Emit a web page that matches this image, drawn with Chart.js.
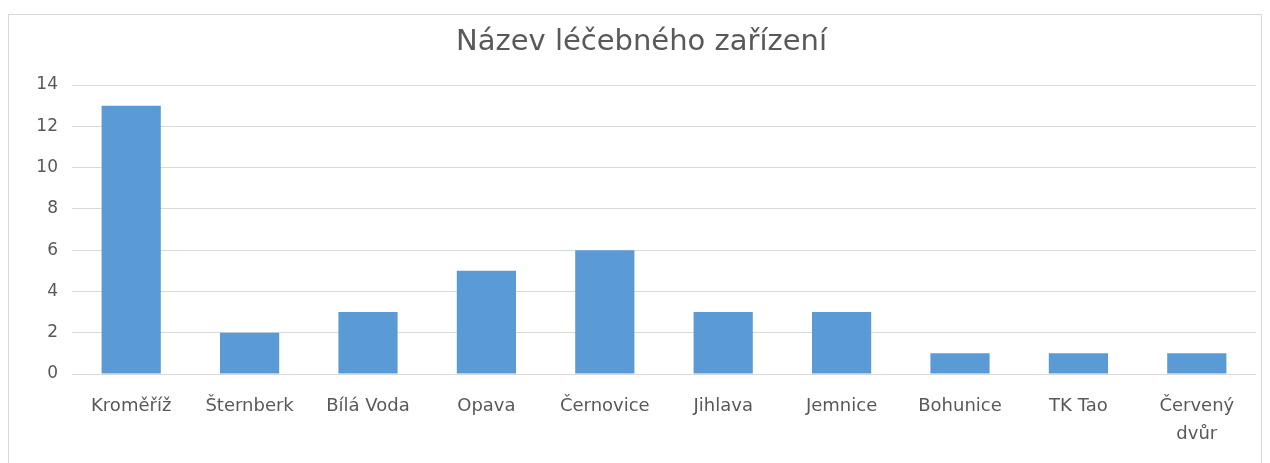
<!DOCTYPE html>
<html>
<head>
<meta charset="utf-8">
<script src="https://cdn.jsdelivr.net/npm/chart.js@4"></script>
<style>
  html, body { margin: 0; padding: 0; background: #fff; overflow: hidden; }
  #box {
    position: absolute; left: 8px; top: 14px;
    width: 1252px; height: 452px;
    border: 1px solid #d9d9d9;
  }
</style>
</head>
<body>
<div id="box"><canvas id="graf" width="1252" height="452"></canvas></div>
<script>
const nazevGrafu = "Název léčebného zařízení";
const zarizeni = ["Kroměříž", "Šternberk", "Bílá Voda", "Opava", "Černovice",
  "Jihlava", "Jemnice", "Bohunice", "TK Tao", ["Červený", "dvůr"]];
const pocty = [13, 2, 3, 5, 6, 3, 3, 1, 1, 1];
const osaYMin = 0;
const osaYMax = 14;
const osaYKrok = 2;

document.addEventListener("DOMContentLoaded", function () {
  const ctx = document.getElementById("graf").getContext("2d");
  new Chart(ctx, {
    type: "bar",
    data: {
      labels: zarizeni,
      datasets: [
        {
          label: nazevGrafu,
          data: pocty,
          backgroundColor: "#5b9bd5",
          barPercentage: 0.5,
          categoryPercentage: 1,
        },
      ],
    },
    options: {
      responsive: false,
      animation: false,
      // levy okraj posune titulek trochu doprava jako v originalu
      layout: { padding: { top: 0, left: 18, right: 5, bottom: 0 } },
      plugins: {
        legend: { display: false },
        tooltip: { enabled: false },
        title: {
          display: true,
          text: nazevGrafu,
          color: "#595959",
          font: { family: "DejaVu Sans", size: 29, weight: "normal", lineHeight: 1.2 },
          padding: { top: 10, bottom: 25.2 },
        },
      },
      scales: {
        x: {
          grid: { display: false },
          border: { display: false },
          ticks: {
            color: "#595959",
            font: { family: "DejaVu Sans", size: 18, lineHeight: 1.55 },
            padding: 10,
            maxRotation: 0,
            autoSkip: false,
          },
          afterFit: function (s) { s.height = 93; },
        },
        y: {
          min: osaYMin,
          max: osaYMax,
          ticks: {
            stepSize: osaYKrok,
            color: "#595959",
            font: { family: "DejaVu Sans", size: 17 },
            padding: 14,
          },
          grid: { color: "#d9d9d9", lineWidth: 1, drawTicks: false },
          border: { display: false },
          afterFit: function (s) { s.width = 45; },
        },
      },
    },
  });
});
</script>
</body>
</html>
